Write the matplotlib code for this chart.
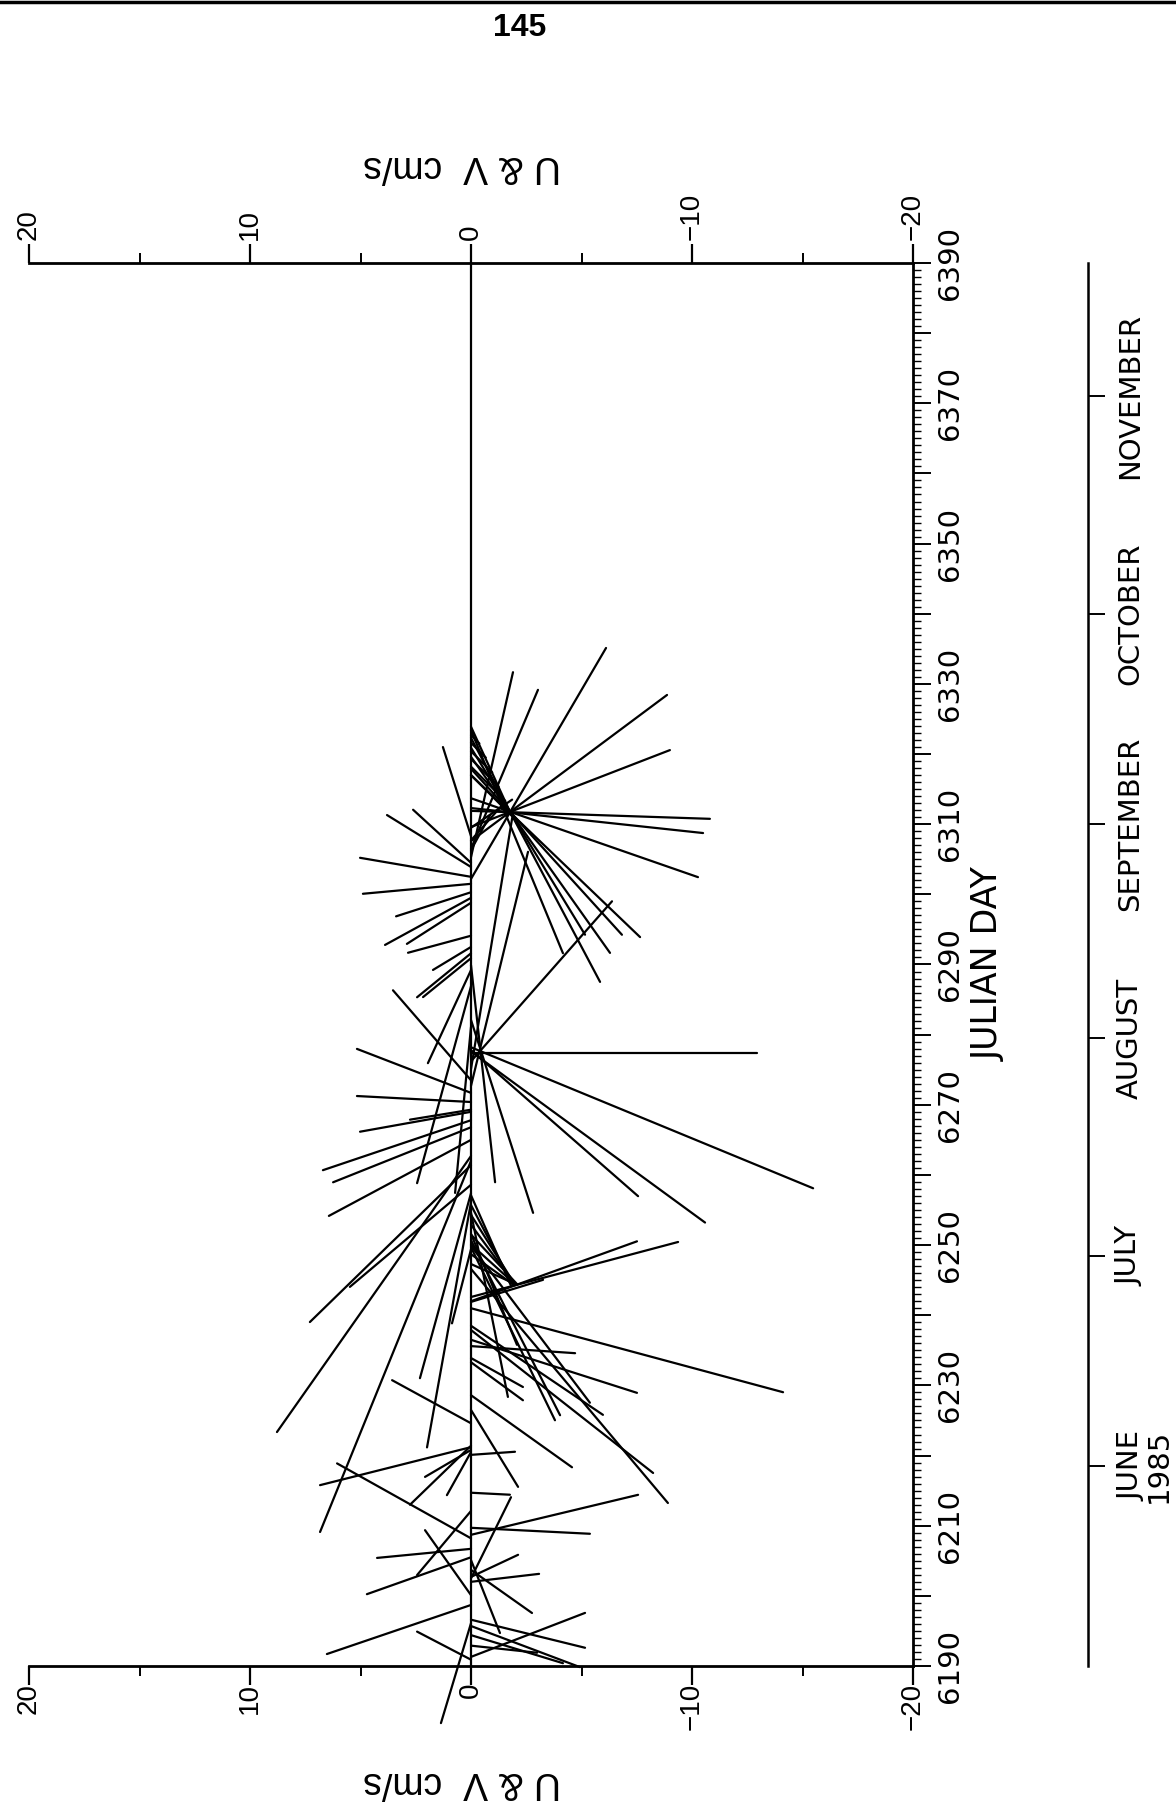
import matplotlib
matplotlib.use("Agg")
import matplotlib.pyplot as plt
from matplotlib.collections import LineCollection
from matplotlib.lines import Line2D
from matplotlib.ticker import FixedLocator, MultipleLocator, NullFormatter
from matplotlib.transforms import blended_transform_factory, ScaledTranslation

# ---- current-meter sticks: start day, u (along time axis) and v components, cm/s
stick_day = [6323.9, 6322.7, 6321.6, 6320.4, 6319.3, 6318.2, 6317.0,
             6306.3, 6307.7, 6309.5,
             6302.2, 6307.6, 6309.6, 6305.3, 6306.5, 6311.9, 6312.3, 6313.7,
             6317.0, 6317.9, 6322.3, 6319.6, 6320.9, 6323.4,
             6308.3, 6303.9, 6304.5, 6302.5, 6301.5, 6300.3, 6299.5, 6298.8,
             6294.1, 6292.5, 6291.6, 6290.9, 6289.2,
             6275.1, 6272.7,
             6273.5, 6271.7, 6270.4, 6269.3, 6277.4, 6276.2, 6278.2, 6277.8,
             6277.6, 6269.0, 6267.8, 6266.8, 6265.0, 6286.9, 6281.1, 6289.9,
             6282.1, 6242.6, 6242.0,
             6257.1, 6255.7, 6254.3, 6252.9, 6251.5, 6250.1, 6248.7, 6247.3,
             6262.7, 6261.4, 6262.0, 6258.6, 6257.4, 6256.1, 6249.4, 6224.6,
             6241.0, 6236.5, 6235.6, 6238.5, 6249.9, 6249.7, 6250.7, 6251.6,
             6254.6, 6233.9, 6233.3, 6241.9, 6228.6, 6237.9, 6246.6,
             6221.2, 6208.2, 6221.4, 6220.8, 6220.5, 6220.1, 6226.5, 6208.7,
             6209.7, 6214.7, 6202.5, 6200.1, 6206.7, 6205.5, 6212.1, 6202.7,
             6202.0, 6203.7, 6205.1, 6198.7, 6190.9, 6191.3, 6196.6, 6195.7,
             6194.4, 6192.9, 6196.1]

stick_u = [-3.85, -0.38, -0.67, -0.96, -1.25, -1.55, -1.84,
           1.58, 1.58, 1.27,
           10.45, 6.61, 3.48, 8.37, 7.19, -0.36, -1.13, -3.57,
           -7.33, -7.51, -11.04, -8.87, -8.46, -10.09,
           4.03, 2.35, 2.40, 0.86, -0.45, -1.09, -2.13, -1.86,
           -0.77, -1.04, -1.99, -1.76, -4.21,
           11.58, 10.59,
           4.07, 1.99, 0.27, -0.45, 0.00, 7.24, -6.38, -6.61,
           -7.74, -0.90, -2.26, -2.49, -3.44, -8.91, -7.51, -9.82,
           -8.73, 2.49, 2.71,
           -4.07, -3.62, -3.17, -2.71, -2.26, -1.81, -1.36, -0.90,
           -12.49, -7.10, -16.79, -4.62, -8.37, -11.09, -3.35, 1.95,
           -3.80, -2.40, -0.32, -4.03, -7.10, -7.83, -7.92, -5.02,
           -8.33, -1.31, -1.72, 1.00, -3.26, -6.47, -10.59,
           -1.72, 3.39, -2.67, -1.22, -1.95, 0.14, -3.48, 1.81,
           -0.27, -0.09, 3.67, 2.94, -0.41, -1.67, -2.90, 1.00,
           0.36, -1.95, -3.30, -2.22, 1.27, 1.99, -1.27, -1.86,
           -1.27, -0.32, -4.52]

stick_v = [-1.76, -0.38, -0.67, -0.96, -1.25, -1.55, -1.84,
           -0.86, -1.40, -1.86,
           -6.11, -8.87, -9.00, -1.90, -3.03, -10.81, -10.50, -10.27,
           -7.65, -6.83, -5.84, -6.29, -5.16, -4.16,
           1.27, 3.80, 2.62, 5.02, 4.89, 3.39, 3.89, 2.90,
           2.85, 1.72, 2.44, 2.17, 1.95,
           -1.90, -2.58,
           3.53, 5.16, 5.16, 2.76, -12.94, -6.38, -15.48, -7.56,
           -10.59, 5.02, 6.70, 6.24, 6.43, 2.44, 0.72, -1.09,
           -2.81, -9.37, -7.51,
           -1.80, -1.90, -2.00, -2.00, -2.10, -2.00, -1.90, -2.00,
           8.78, 7.29, 6.83, 5.48, 2.31, 1.99, 0.86, 3.57,
           -14.12, -7.51, -4.71, -5.97, -5.38, -3.80, -4.03, -2.08,
           -1.67, -2.35, -2.35, -3.26, -4.57, -8.24, -8.91,
           6.83, 6.06, 2.76, 2.08, 1.09, -1.99, -2.13, -7.56,
           -5.38, -1.76, -1.81, 2.08, 4.25, 4.71, 2.44, -2.13,
           -3.08, -2.76, -1.31, 6.52, 2.44, -5.16, -5.16, -4.93,
           -4.16, -2.99, 1.36]

# ---- axes annotation
value_ticks = [20, 10, 0, -10, -20]
value_minor = [15, 5, -5, -15]
value_labels = ["20", "10", "0", "\u221210", "\u221220"]
day_labels = list(range(6190, 6391, 20))
month_days = [6218.5, 6248.5, 6279.5, 6310, 6340, 6371]
month_names = ["JUNE\n1985", "JULY", "AUGUST", "SEPTEMBER", "OCTOBER", "NOVEMBER"]

W, H, DPI = 1176, 1807, 100
NARROW = ["Liberation Sans Narrow", "DejaVu Sans"]
REGULAR = ["Liberation Sans", "DejaVu Sans"]

fig = plt.figure(figsize=(W / DPI, H / DPI), dpi=DPI)
fig.patch.set_facecolor("white")


def px_box(x0, y0, x1, y1):
    return [x0 / W, 1 - y1 / H, (x1 - x0) / W, (y1 - y0) / H]


def px_off(dx, dy):
    return ScaledTranslation(dx / DPI, -dy / DPI, fig.dpi_scale_trans)


ax = fig.add_axes(px_box(29, 263, 913, 1666))
ax.set_xlim(20, -20)
ax.set_ylim(6190, 6390)

# days per cm/s so that a vector keeps its true direction on the page
bb = ax.get_position()
ax_w_px, ax_h_px = bb.width * W, bb.height * H
k = (ax_w_px / 40.0) / (ax_h_px / 200.0)

segments = [[(0.0, t), (v, t + u * k)] for t, u, v in zip(stick_day, stick_u, stick_v)]
lc = LineCollection(segments, colors="black", linewidths=1.6, capstyle="round")
lc.set_clip_on(False)
ax.add_collection(lc)
ax.axvline(0, color="black", lw=1.6, zorder=1)

for side in ("top", "bottom", "right"):
    ax.spines[side].set_linewidth(2.0)
ax.spines["left"].set_visible(False)

# value axis ticks (top and bottom)
ax.xaxis.set_major_locator(FixedLocator(value_ticks))
ax.xaxis.set_minor_locator(FixedLocator(value_minor))
ax.xaxis.set_major_formatter(NullFormatter())
ax.tick_params(axis="x", which="major", direction="out", length=14, width=1.6,
               top=True, bottom=True, labelbottom=False, labeltop=False)
ax.tick_params(axis="x", which="minor", direction="out", length=7, width=1.4,
               top=True, bottom=True)

xb = blended_transform_factory(ax.transData, ax.transAxes)
for val, lab in zip(value_ticks, value_labels):
    ax.text(val, 0, lab, transform=xb + px_off(0, 17), rotation=90,
            ha="center", va="top", fontsize=20, family=REGULAR)
    ax.text(val, 1, lab, transform=xb + px_off(0, -23), rotation=90,
            ha="center", va="bottom", fontsize=20, family=REGULAR)

# time axis ticks (right side)
ax.yaxis.tick_right()
ax.yaxis.set_major_locator(MultipleLocator(10))
ax.yaxis.set_minor_locator(MultipleLocator(1))
ax.yaxis.set_major_formatter(NullFormatter())
ax.tick_params(axis="y", which="major", direction="out", length=13, width=1.4,
               right=True, left=False)
ax.tick_params(axis="y", which="minor", direction="out", length=6, width=1.0,
               right=True, left=False)

yb = blended_transform_factory(ax.transAxes, ax.transData)
for d in day_labels:
    ax.text(1, d, str(d), transform=yb + px_off(37, 0), rotation=90,
            ha="center", va="center", fontsize=21, family=NARROW)

ax.text(1, 0.5, "JULIAN DAY", transform=ax.transAxes + px_off(76, 0),
        rotation=90, ha="center", va="center", fontsize=25, family=NARROW)

# axis titles, drawn upside down as on the page
fig.text(462 / W, 1 - 166 / H, "U & V  cm/s", rotation=180, ha="center",
         va="center", fontsize=27, family=REGULAR)
fig.text(462 / W, 1 - 1782 / H, "U & V  cm/s", rotation=180, ha="center",
         va="center", fontsize=27, family=REGULAR)

# month scale
axm = fig.add_axes(px_box(1088, 263, 1176, 1666))
axm.set_ylim(6190, 6390)
axm.set_xlim(0, 1)
axm.patch.set_visible(False)
for side in ("top", "bottom", "right"):
    axm.spines[side].set_visible(False)
axm.spines["left"].set_linewidth(1.8)
axm.set_xticks([])
axm.yaxis.set_major_locator(FixedLocator(month_days))
axm.yaxis.set_major_formatter(NullFormatter())
axm.tick_params(axis="y", which="both", direction="in", length=12, width=1.4,
                left=True, right=False)
mb = blended_transform_factory(axm.transAxes, axm.transData)
for d, name in zip(month_days, month_names):
    xoff = 57 if "\n" in name else 42
    axm.text(0, d, name, transform=mb + px_off(xoff, 0), rotation=90,
             ha="center", va="center", fontsize=21, family=NARROW,
             multialignment="center", linespacing=1.0)

# page header
fig.text(520 / W, 1 - 28 / H, "145", ha="center", va="center", fontsize=23,
         fontweight="bold", family=REGULAR)
fig.add_artist(Line2D([0, 1], [1 - 2 / H, 1 - 2 / H], transform=fig.transFigure,
                      color="black", lw=2.5))

fig.savefig("out.png", dpi=DPI, facecolor="white")
